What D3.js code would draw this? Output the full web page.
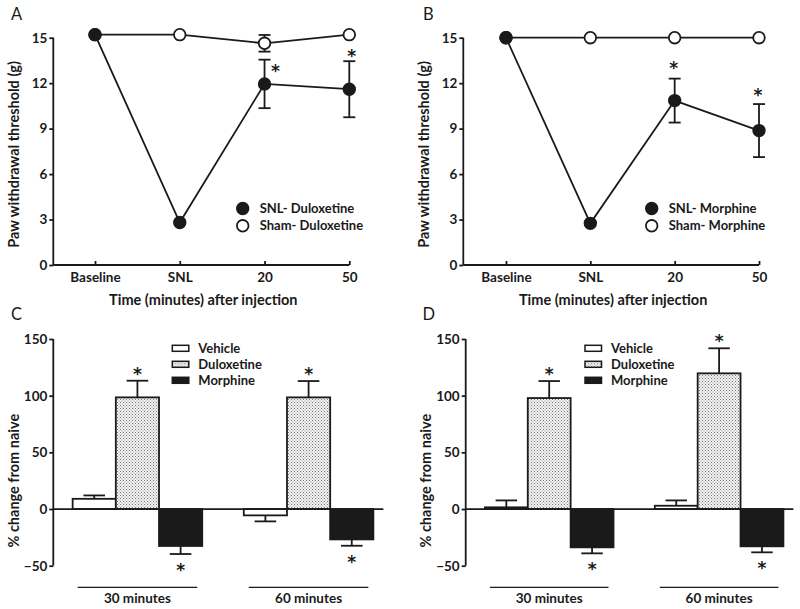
<!DOCTYPE html>
<html><head><meta charset="utf-8">
<script src="https://cdn.jsdelivr.net/npm/d3@7"></script>
<style>
body{margin:0;background:#fff;}
svg{display:block;font-family:Lato, "Open Sans", sans-serif;}
</style></head>
<body><svg id="c" width="800" height="609"></svg>
<script>
// ---------- data ----------
const timeCats = ["Baseline", "SNL", "20", "50"];
const yTicksLine = [0, 3, 6, 9, 12, 15];

const snlDulox      = [15.2, 2.8, 11.95, 11.6];
const snlDuloxErr   = [0, 0, 1.6, 1.85];
const shamDulox     = [15.2, 15.2, 14.63, 15.2];
const shamDuloxErr  = [0, 0, 0.55, 0];
const snlMorph      = [15.0, 2.75, 10.85, 8.87];
const snlMorphErr   = [0, 0, 1.45, 1.75];
const shamMorph     = [15.0, 15.0, 15.0, 15.0];
const shamMorphErr  = [0, 0, 0, 0];
const lineSig       = ["20", "50"];

const groups   = ["30 minutes", "60 minutes"];
const drugs    = ["Vehicle", "Duloxetine", "Morphine"];
const yTicksBar = [-50, 0, 50, 100, 150];
const pctC     = [[9, 98.5, -32.6], [-5.6, 98.5, -26.8]];
const pctCErr  = [[3, 14.7, 7.1], [5.3, 14.4, 5.6]];
const sigC     = [[false, true, true], [false, true, true]];
const pctD     = [[1.5, 97.9, -33.8], [2.9, 119.7, -32.9]];
const pctDErr  = [[6.1, 15, 5.3], [4.7, 22.1, 5.3]];
const sigD     = [[false, true, true], [false, true, true]];

// ---------- drawing ----------
const svg = d3.select("#c");
const defs = svg.append("defs");
const pat = defs.append("pattern").attr("id", "dots").attr("patternUnits", "userSpaceOnUse")
  .attr("width", 3).attr("height", 3);
pat.append("rect").attr("width", 3).attr("height", 3).attr("fill", "#f2f2f2");
pat.append("rect").attr("x", 0).attr("y", 0).attr("width", 1).attr("height", 1).attr("fill", "#777");
pat.append("rect").attr("x", 1.5).attr("y", 1.5).attr("width", 1).attr("height", 1).attr("fill", "#999");

const fills = {Vehicle: "#fff", Duloxetine: "url(#dots)", Morphine: "#1a1a1a"};
const ink = "#1a1a1a";
const sw = 1.8;

function star(g, x, cy) {
  g.append("text").attr("x", x).attr("y", cy + 9).attr("text-anchor", "middle")
    .attr("font-family", "DejaVu Sans, sans-serif")
    .attr("font-size", 17).attr("font-weight", 700).attr("fill", ink).text("*");
}

function linePanel(opt) {
  const g = svg.append("g");
  const x = d3.scalePoint().domain(timeCats).range([opt.x0, opt.x1]);
  const y = d3.scaleLinear().domain([0, 15]).range([265, 37.7]);
  const ya = g.append("g").attr("transform", `translate(${opt.ax},0)`)
    .call(d3.axisLeft(y).tickValues(yTicksLine).tickSizeOuter(0).tickSize(4).tickPadding(2));
  ya.select(".domain").remove();
  g.append("line").attr("x1", opt.ax).attr("x2", opt.ax).attr("y1", y(0)).attr("y2", y(15))
    .attr("stroke", ink).attr("stroke-width", sw);
  const xa = g.append("g").attr("transform", `translate(0,${y(0)})`)
    .call(d3.axisBottom(x).tickSize(-4).tickPadding(7));
  xa.select(".domain").remove();
  g.append("line").attr("x1", opt.ax).attr("x2", opt.x1).attr("y1", y(0)).attr("y2", y(0))
    .attr("stroke", ink).attr("stroke-width", sw);
  [ya, xa].forEach(a => {
    a.selectAll("line").attr("stroke", ink).attr("stroke-width", sw);
    a.selectAll("text").attr("font-size", 13.5).attr("font-weight", 700).attr("fill", ink)
      .attr("font-family", "Lato, sans-serif");
  });
  const line = d3.line().x((d, i) => x(timeCats[i])).y(d => y(d));
  const series = [
    {v: opt.sham, e: opt.shamErr, filled: false},
    {v: opt.snl, e: opt.snlErr, filled: true}
  ];
  series.forEach(s => {
    g.append("path").attr("d", line(s.v)).attr("fill", "none").attr("stroke", ink).attr("stroke-width", sw);
    s.v.forEach((d, i) => {
      if (s.e[i] > 0) {
        const cx = x(timeCats[i]);
        g.append("line").attr("x1", cx).attr("x2", cx).attr("y1", y(d - s.e[i])).attr("y2", y(d + s.e[i]))
          .attr("stroke", ink).attr("stroke-width", sw);
        [d - s.e[i], d + s.e[i]].forEach(v => g.append("line").attr("x1", cx - 6).attr("x2", cx + 6)
          .attr("y1", y(v)).attr("y2", y(v)).attr("stroke", ink).attr("stroke-width", sw));
      }
    });
  });
  series.forEach(s => {
    s.v.forEach((d, i) => {
      g.append("circle").attr("cx", x(timeCats[i])).attr("cy", y(d)).attr("r", 5.8)
        .attr("fill", s.filled ? ink : "#fff").attr("stroke", ink).attr("stroke-width", sw);
    });
  });
  opt.sigOffsets.forEach((o, k) => {
    const i = timeCats.indexOf(lineSig[k]);
    const top = y(opt.snl[i] + opt.snlErr[i]);
    star(g, x(timeCats[i]) + o[0], top + o[1]);
  });
  g.append("text").attr("transform", `translate(${opt.ax - 40},${y(7.3)}) rotate(-90)`)
    .attr("text-anchor", "middle").attr("dominant-baseline", "central")
    .attr("font-size", 14.5).attr("font-weight", 700).attr("fill", ink).text("Paw withdrawal threshold (g)");
  g.append("text").attr("x", (opt.ax + opt.x1) / 2 + 2).attr("y", 305)
    .attr("text-anchor", "middle").attr("font-size", 14.5).attr("font-weight", 700).attr("fill", ink)
    .text("Time (minutes) after injection");
  const lg = g.append("g").attr("transform", `translate(${opt.lx},208.5)`);
  [[true, opt.names[0]], [false, opt.names[1]]].forEach((r, k) => {
    lg.append("circle").attr("cx", 0).attr("cy", k * 17.3).attr("r", 5.8)
      .attr("fill", r[0] ? ink : "#fff").attr("stroke", ink).attr("stroke-width", sw);
    lg.append("text").attr("x", 17).attr("y", k * 17.3 + 4.6).attr("font-size", 13)
      .attr("font-weight", 700).attr("fill", ink).text(r[1]);
  });
  g.append("text").attr("x", opt.letterX).attr("y", 19.5).attr("font-size", 16.5).attr("fill", ink).text(opt.letter);
}

function barPanel(opt) {
  const g = svg.append("g");
  const y = d3.scaleLinear().domain([-50, 150]).range([565.7, 339]);
  const x0 = d3.scaleBand().domain(groups).range([opt.ax, opt.xEnd]).paddingInner(0.243).paddingOuter(0.113);
  const x1 = d3.scaleBand().domain(drugs).range([0, x0.bandwidth()]);
  const ya = g.append("g").attr("transform", `translate(${opt.ax},0)`)
    .call(d3.axisLeft(y).tickValues(yTicksBar).tickSize(4).tickPadding(2).tickSizeOuter(0));
  ya.select(".domain").remove();
  ya.selectAll("line").attr("stroke", ink).attr("stroke-width", sw);
  ya.selectAll("text").attr("font-size", 13.5).attr("font-weight", 700).attr("fill", ink).attr("font-family", "Lato, sans-serif");
  g.append("line").attr("x1", opt.ax).attr("x2", opt.ax).attr("y1", y(-50)).attr("y2", y(150))
    .attr("stroke", ink).attr("stroke-width", sw);
  const lastEnd = x0(groups[groups.length - 1]) + x0.bandwidth();
  groups.forEach((grp, gi) => {
    const gx = x0(grp);
    drugs.forEach((dr, di) => {
      const v = opt.vals[gi][di], e = opt.errs[gi][di];
      const bx = gx + x1(dr), bw = x1.bandwidth(), cx = bx + bw / 2;
      const tip = v >= 0 ? v + e : v - e;
      g.append("line").attr("x1", cx).attr("x2", cx).attr("y1", y(v)).attr("y2", y(tip))
        .attr("stroke", ink).attr("stroke-width", sw);
      g.append("line").attr("x1", cx - bw / 4).attr("x2", cx + bw / 4).attr("y1", y(tip)).attr("y2", y(tip))
        .attr("stroke", ink).attr("stroke-width", sw);
      g.append("rect").attr("x", bx).attr("width", bw)
        .attr("y", y(Math.max(0, v))).attr("height", Math.abs(y(v) - y(0)))
        .attr("fill", fills[dr]).attr("stroke", ink).attr("stroke-width", sw);
      if (opt.sig[gi][di]) {
        const cy = v >= 0 ? y(tip) - 10 : y(tip) + 13;
        star(g, cx, cy);
      }
    });
    g.append("line").attr("x1", gx + 5).attr("x2", gx + x0.bandwidth() - 5).attr("y1", 587.3).attr("y2", 587.3)
      .attr("stroke", ink).attr("stroke-width", 1.3);
    g.append("text").attr("x", gx + x0.bandwidth() / 2).attr("y", 602.5).attr("text-anchor", "middle")
      .attr("font-size", 13.5).attr("font-weight", 700).attr("fill", ink).text(grp);
  });
  g.append("line").attr("x1", opt.ax).attr("x2", lastEnd + 10).attr("y1", y(0)).attr("y2", y(0))
    .attr("stroke", ink).attr("stroke-width", sw);
  g.append("text").attr("transform", `translate(${opt.ax - 40},${y(25)}) rotate(-90)`)
    .attr("text-anchor", "middle").attr("dominant-baseline", "central")
    .attr("font-size", 14.5).attr("font-weight", 700).attr("fill", ink).text("% change from naive");
  const lg = g.append("g").attr("transform", `translate(${opt.lx},348.3)`);
  drugs.forEach((dr, k) => {
    lg.append("rect").attr("x", 0).attr("y", k * 16 - 3).attr("width", 16.5).attr("height", 6)
      .attr("fill", fills[dr]).attr("stroke", ink).attr("stroke-width", 1.5);
    lg.append("text").attr("x", 26).attr("y", k * 16 + 4.5).attr("font-size", 13)
      .attr("font-weight", 700).attr("fill", ink).text(dr);
  });
  g.append("text").attr("x", opt.letterX).attr("y", 319.5).attr("font-size", 16.5).attr("fill", ink).text(opt.letter);
}

linePanel({x0: 95, x1: 349.3, ax: 53.3, snl: snlDulox, snlErr: snlDuloxErr, sham: shamDulox, shamErr: shamDuloxErr,
  sigOffsets: [[11, 8], [2.5, -8]], names: ["SNL- Duloxetine", "Sham- Duloxetine"], lx: 242.7, letter: "A", letterX: 11});
linePanel({x0: 506, x1: 759, ax: 463.3, snl: snlMorph, snlErr: snlMorphErr, sham: shamMorph, shamErr: shamMorphErr,
  sigOffsets: [[-1, -14], [-1, -12]], names: ["SNL- Morphine", "Sham- Morphine"], lx: 651.7, letter: "B", letterX: 423});
barPanel({ax: 53.3, xEnd: 392.7, vals: pctC, errs: pctCErr, sig: sigC, lx: 172.3, letter: "C", letterX: 11});
barPanel({ax: 465.7, xEnd: 802.6, vals: pctD, errs: pctDErr, sig: sigD, lx: 585, letter: "D", letterX: 422.5});
</script></body></html>
